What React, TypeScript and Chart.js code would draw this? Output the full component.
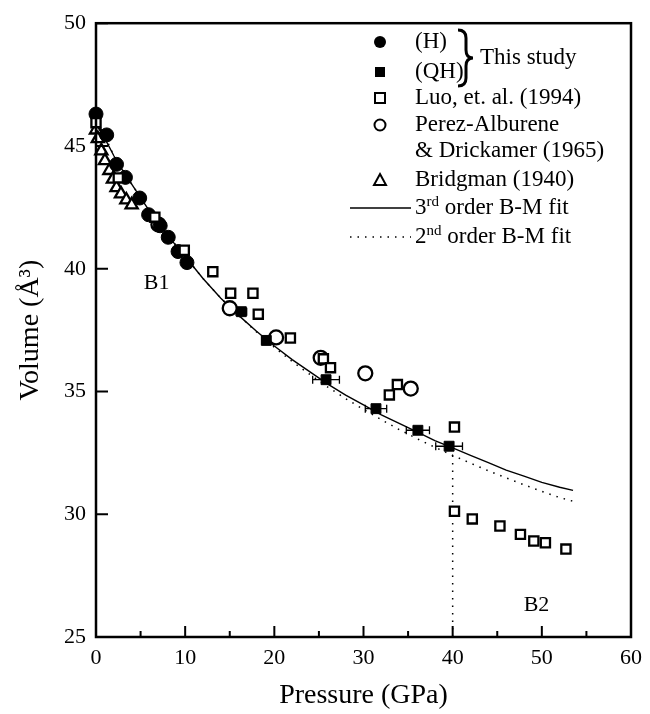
import React, { useEffect, useRef } from 'react';
import { Chart, registerables } from 'chart.js';
Chart.register(...registerables);

const FONT = '"Liberation Serif", "Times New Roman", serif';

// Axis ranges / ticks
const xMajorTicks = [0, 10, 20, 30, 40, 50, 60];
const xMinorTicks = [5, 15, 25, 35, 45, 55];
const yMajorTicks = [25, 30, 35, 40, 45, 50];

// 3rd order Birch-Murnaghan fit
const fit3P = [0,1,2,3,4,5,6,7,8,9,10,12,14,16,18,20,22,24,26,28,30,32,34,36,38,40,42,44,46,48,50,52,53.5];
const fit3V = [46.2,45.3,44.6,44.0,43.45,42.9,42.35,41.85,41.38,40.93,40.5,39.6,38.8,38.1,37.45,36.85,36.3,35.8,35.3,34.85,34.45,34.05,33.7,33.35,33.0,32.7,32.4,32.1,31.8,31.55,31.3,31.1,30.97];

// 2nd order Birch-Murnaghan fit
const fit2P = [0,2,4,6,8,10,12,14,16,18,20,22,24,26,28,30,32,34,36,38,40,42,44,46,48,50,52,53.5];
const fit2V = [46.2,44.6,43.45,42.35,41.38,40.5,39.6,38.8,38.09,37.43,36.8,36.22,35.69,35.18,34.71,34.27,33.85,33.45,33.08,32.73,32.4,32.08,31.77,31.48,31.2,30.93,30.68,30.53];

// B1 -> B2 transition marker
const transP = [40, 40];
const transV = [32.7, 25];

// This study (H)
const hP = [0, 1.2, 2.3, 3.3, 4.9, 5.9, 7.2, 8.1, 9.2, 10.2];
const hV = [46.3, 45.45, 44.25, 43.72, 42.88, 42.2, 41.75, 41.28, 40.7, 40.25];

// This study (QH) with pressure error
const qhP = [16.3, 19.1, 25.8, 31.4, 36.1, 39.6];
const qhV = [38.25, 37.08, 35.48, 34.3, 33.42, 32.77];
const qhErr = [0.6, 0.5, 1.5, 1.2, 1.3, 1.5];

// Luo et al. (1994)
const luoP = [0, 2.5, 6.6, 9.9, 13.1, 15.1, 17.6, 18.2, 21.8, 25.5, 26.3, 32.9, 33.8, 40.2, 40.2, 42.2, 45.3, 47.6, 49.1, 50.4, 52.7];
const luoV = [45.95, 43.7, 42.1, 40.75, 39.88, 39.0, 39.0, 38.15, 37.18, 36.33, 35.97, 34.86, 35.28, 33.55, 30.12, 29.81, 29.52, 29.18, 28.91, 28.84, 28.58];

// Perez-Alburene & Drickamer (1965)
const perezP = [7.0, 15.0, 20.2, 25.2, 30.2, 35.3];
const perezV = [41.8, 38.39, 37.2, 36.37, 35.74, 35.12];

// Bridgman (1940)
const bridgP = [0, 0.2, 0.6, 1.0, 1.5, 1.9, 2.3, 2.8, 3.4, 4.0];
const bridgV = [45.65, 45.3, 44.8, 44.4, 44.0, 43.65, 43.3, 43.05, 42.8, 42.6];

const toXY = (xs: number[], ys: number[]) => xs.map((x, i) => ({ x, y: ys[i] }));

const decorPlugin = {
  id: 'decor',
  beforeDatasetsDraw(chart: any) {
    const { ctx, scales } = chart;
    const xs = scales.x, ys = scales.y;
    ctx.save();
    ctx.strokeStyle = '#000';
    ctx.lineWidth = 1.3;
    qhP.forEach((p, i) => {
      const py = ys.getPixelForValue(qhV[i]);
      const x1 = xs.getPixelForValue(p - qhErr[i]);
      const x2 = xs.getPixelForValue(p + qhErr[i]);
      ctx.beginPath();
      ctx.moveTo(x1, py); ctx.lineTo(x2, py);
      ctx.moveTo(x1, py - 4); ctx.lineTo(x1, py + 4);
      ctx.moveTo(x2, py - 4); ctx.lineTo(x2, py + 4);
      ctx.stroke();
    });
    ctx.restore();
  },
  afterDraw(chart: any) {
    const { ctx, chartArea, scales } = chart;
    const xs = scales.x, ys = scales.y;
    const { left, right, top, bottom } = chartArea;
    ctx.save();
    // frame
    ctx.strokeStyle = '#000';
    ctx.lineWidth = 2.5;
    ctx.strokeRect(left, top, right - left, bottom - top);
    // inward ticks
    ctx.lineWidth = 2;
    ctx.beginPath();
    xMajorTicks.forEach((t) => {
      const px = xs.getPixelForValue(t);
      ctx.moveTo(px, bottom); ctx.lineTo(px, bottom - 11);
    });
    xMinorTicks.forEach((t) => {
      const px = xs.getPixelForValue(t);
      ctx.moveTo(px, bottom); ctx.lineTo(px, bottom - 6);
    });
    yMajorTicks.forEach((t) => {
      const py = ys.getPixelForValue(t);
      ctx.moveTo(left, py); ctx.lineTo(left + 12, py);
    });
    ctx.stroke();

    // region labels
    ctx.fillStyle = '#000';
    ctx.font = `22px ${FONT}`;
    ctx.textAlign = 'center';
    ctx.textBaseline = 'middle';
    ctx.fillText('B1', xs.getPixelForValue(6.8), ys.getPixelForValue(39.4));
    ctx.fillText('B2', xs.getPixelForValue(49.4), ys.getPixelForValue(26.3));

    // legend
    const symX = 380;
    const txtX = 415;
    const rows = [42, 72, 98, 125, 151, 180, 208, 237];
    ctx.textAlign = 'left';
    ctx.font = `23px ${FONT}`;
    ctx.lineWidth = 2;
    ctx.beginPath(); ctx.arc(symX, rows[0], 6, 0, Math.PI * 2); ctx.fill();
    ctx.fillText('(H)', txtX, rows[0]);
    ctx.fillRect(symX - 5, rows[1] - 5, 10, 10);
    ctx.fillText('(QH)', txtX, rows[1]);
    ctx.strokeRect(symX - 5, rows[2] - 5, 10, 10);
    ctx.fillText('Luo, et. al. (1994)', txtX, rows[2]);
    ctx.beginPath(); ctx.arc(symX, rows[3], 5.5, 0, Math.PI * 2); ctx.stroke();
    ctx.fillText('Perez-Alburene', txtX, rows[3]);
    ctx.fillText('& Drickamer (1965)', txtX, rows[4]);
    ctx.beginPath();
    ctx.moveTo(symX, rows[5] - 6); ctx.lineTo(symX + 6, rows[5] + 5); ctx.lineTo(symX - 6, rows[5] + 5); ctx.closePath();
    ctx.stroke();
    ctx.fillText('Bridgman (1940)', txtX, rows[5]);
    ctx.lineWidth = 1.3;
    ctx.beginPath(); ctx.moveTo(350, rows[6]); ctx.lineTo(411, rows[6]); ctx.stroke();
    ctx.setLineDash([1.5, 6]);
    ctx.beginPath(); ctx.moveTo(350, rows[7]); ctx.lineTo(411, rows[7]); ctx.stroke();
    ctx.setLineDash([]);
    const supText = (base: string, sup: string, rest: string, y: number) => {
      ctx.font = `23px ${FONT}`;
      ctx.fillText(base, txtX, y);
      let w = ctx.measureText(base).width;
      ctx.font = `15px ${FONT}`;
      ctx.fillText(sup, txtX + w, y - 6);
      w += ctx.measureText(sup).width;
      ctx.font = `23px ${FONT}`;
      ctx.fillText(rest, txtX + w, y);
    };
    supText('3', 'rd', ' order B-M fit', rows[6]);
    supText('2', 'nd', ' order B-M fit', rows[7]);
    // brace
    ctx.lineWidth = 3;
    ctx.beginPath();
    const bx = 458, bt = 30, bb = 86, bm = 58;
    ctx.moveTo(bx, bt);
    ctx.quadraticCurveTo(466, bt, 466, bt + 8);
    ctx.lineTo(466, bm - 8);
    ctx.quadraticCurveTo(466, bm, 473, bm);
    ctx.quadraticCurveTo(466, bm, 466, bm + 8);
    ctx.lineTo(466, bb - 8);
    ctx.quadraticCurveTo(466, bb, bx, bb);
    ctx.stroke();
    ctx.font = `23px ${FONT}`;
    ctx.fillText('This study', 480, bm);
    ctx.restore();
  },
};

export default function App() {
  const ref = useRef<HTMLCanvasElement>(null);
  useEffect(() => {
    if (!ref.current) return;
    const tickFont = { family: FONT, size: 22 };
    const titleFont = { family: FONT, size: 28 };
    const chart = new Chart(ref.current, {
      type: 'scatter',
      data: {
        datasets: [
          {
            label: '3rd order B-M fit', data: toXY(fit3P, fit3V), showLine: true,
            borderColor: '#000', borderWidth: 1.4, pointRadius: 0, order: 10, clip: false,
          },
          {
            label: '2nd order B-M fit', data: toXY(fit2P, fit2V), showLine: true,
            borderColor: '#000', borderWidth: 1.5, borderDash: [1.5, 6], pointRadius: 0, order: 11, clip: false,
          },
          {
            label: 'transition', data: toXY(transP, transV), showLine: true,
            borderColor: '#000', borderWidth: 1.5, borderDash: [1.5, 6], pointRadius: 0, order: 12, clip: false,
          },
          {
            label: 'Luo, et. al. (1994)', data: toXY(luoP, luoV), pointStyle: 'rect',
            pointRadius: 6.5, backgroundColor: '#fff', borderColor: '#000', pointBorderWidth: 2.3, order: 0, clip: false,
          },
          {
            label: 'Perez-Alburene & Drickamer (1965)', data: toXY(perezP, perezV), pointStyle: 'circle',
            pointRadius: 7, backgroundColor: '#fff', borderColor: '#000', pointBorderWidth: 2.3, order: 4, clip: false,
          },
          {
            label: 'Bridgman (1940)', data: toXY(bridgP, bridgV), pointStyle: 'triangle',
            pointRadius: 7, backgroundColor: '#fff', borderColor: '#000', pointBorderWidth: 2.3, order: 3, clip: false,
          },
          {
            label: '(QH)', data: toXY(qhP, qhV), pointStyle: 'rect',
            pointRadius: 7, backgroundColor: '#000', borderColor: '#000', pointBorderWidth: 1, order: 2, clip: false,
          },
          {
            label: '(H)', data: toXY(hP, hV), pointStyle: 'circle',
            pointRadius: 7, backgroundColor: '#000', borderColor: '#000', pointBorderWidth: 1, order: 1, clip: false,
          },
        ],
      },
      options: {
        responsive: false,
        animation: false,
        events: [],
        layout: { padding: { left: 0, right: 17, top: 18, bottom: 0 } },
        plugins: { legend: { display: false }, tooltip: { enabled: false } },
        scales: {
          x: {
            type: 'linear', min: 0, max: 60,
            ticks: { stepSize: 10, font: tickFont, color: '#000', padding: 8, maxRotation: 0 },
            grid: { display: false, drawTicks: false },
            border: { display: false },
            title: { display: true, text: 'Pressure (GPa)', font: titleFont, color: '#000', padding: { top: 0, bottom: 2 } },
            afterFit: (s: any) => { s.height = 77; },
          },
          y: {
            type: 'linear', min: 25, max: 50,
            ticks: { stepSize: 5, font: tickFont, color: '#000', padding: 10 },
            grid: { display: false, drawTicks: false },
            border: { display: false },
            title: { display: true, text: 'Volume (Å³)', font: titleFont, color: '#000', padding: { top: 14, bottom: 0 } },
            afterFit: (s: any) => { s.width = 96; },
          },
        },
      },
      plugins: [decorPlugin],
    } as any);
    return () => chart.destroy();
  }, []);
  return (
    <div style={{ position: 'absolute', left: 0, top: 0, width: 650, height: 714, background: '#fff' }}>
      <canvas ref={ref} width={650} height={714} style={{ display: 'block' }} />
    </div>
  );
}
